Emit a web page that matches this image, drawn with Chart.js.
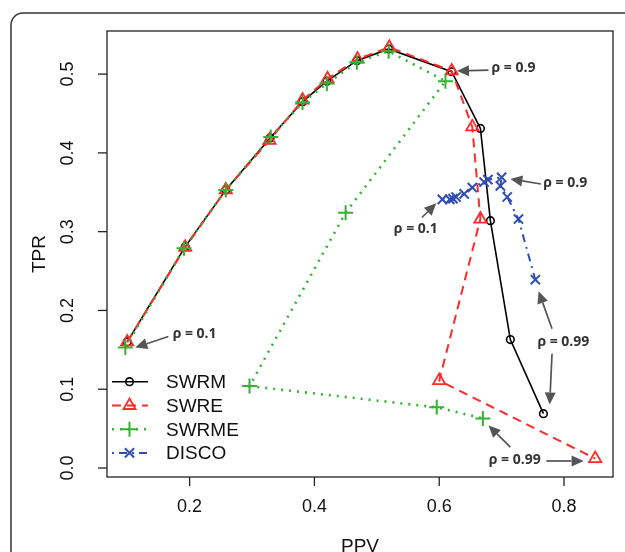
<!DOCTYPE html>
<html lang="en">
<head>
<meta charset="UTF-8">
<title>TPR vs PPV</title>
<script src="https://cdn.jsdelivr.net/npm/chart.js"></script>
<style>
  body { margin: 0; padding: 0; background: #ffffff; }
  .wrap { width: 625px; height: 552px; position: relative; }
</style>
</head>
<body>
<div class="wrap"><canvas id="rocChart"></canvas></div>
<script>
// axis ticks
const xTicks = [0.2, 0.4, 0.6, 0.8];
const yTicks = [0.0, 0.1, 0.2, 0.3, 0.4, 0.5];

// series (PPV on x, TPR on y), rho from 0.1 up to 0.99
const swrmPPV  = [0.100, 0.193, 0.258, 0.329, 0.381, 0.420, 0.468, 0.519, 0.620, 0.666, 0.682, 0.714, 0.767];
const swrmTPR  = [0.160, 0.281, 0.353, 0.419, 0.465, 0.491, 0.517, 0.532, 0.503, 0.431, 0.314, 0.163, 0.069];
const swrePPV  = [0.100, 0.193, 0.258, 0.328, 0.381, 0.421, 0.469, 0.520, 0.620, 0.653, 0.666, 0.600, 0.850];
const swreTPR  = [0.160, 0.280, 0.353, 0.416, 0.467, 0.494, 0.519, 0.534, 0.504, 0.433, 0.316, 0.111, 0.012];
const swrmePPV = [0.097, 0.191, 0.258, 0.330, 0.381, 0.420, 0.468, 0.519, 0.610, 0.450, 0.296, 0.596, 0.670];
const swrmeTPR = [0.153, 0.279, 0.353, 0.420, 0.464, 0.488, 0.515, 0.529, 0.491, 0.324, 0.104, 0.077, 0.063];
const discoPPV = [0.605, 0.617, 0.622, 0.627, 0.640, 0.653, 0.672, 0.678, 0.700, 0.698, 0.709, 0.727, 0.754];
const discoTPR = [0.341, 0.341, 0.342, 0.344, 0.348, 0.356, 0.363, 0.366, 0.369, 0.358, 0.344, 0.316, 0.239];

// rho annotations (data coordinates)
const noteText = ['ρ = 0.1', 'ρ = 0.9', 'ρ = 0.9', 'ρ = 0.1', 'ρ = 0.99', 'ρ = 0.99'];
const noteX    = [0.208, 0.719, 0.802, 0.5625, 0.799, 0.721];
const noteY    = [0.170, 0.508, 0.362, 0.303, 0.160, 0.010];
const arrowFrom = [[0.166, 0.167], [0.679, 0.505], [0.763, 0.3605], [0.5724, 0.318], [0.7808, 0.1767], [0.7808, 0.145], [0.714, 0.0266], [0.7716, 0.0089]];
const arrowTo   = [[0.113, 0.153], [0.6285, 0.504], [0.714, 0.3668], [0.5953, 0.336], [0.7593, 0.2243], [0.777, 0.0807], [0.679, 0.0541], [0.8314, 0.0089]];

const RED = '#ff2a2a', GREEN = '#33b233', BLUE = '#2f4db3';

function pts(xs, ys) {
    return xs.map(function(x, i) { return { x: x, y: ys[i] }; });
}

const series = [
    { label: 'SWRM',  data: pts(swrmPPV, swrmTPR),   color: '#000000', dash: [],            lw: 1.6, style: 'circle',   r: 3.8, pw: 1.6 },
    { label: 'SWRE',  data: pts(swrePPV, swreTPR),   color: RED,       dash: [9, 6],        lw: 2.0, style: 'triangle', r: 7,   pw: 1.8 },
    { label: 'SWRME', data: pts(swrmePPV, swrmeTPR), color: GREEN,     dash: [2, 6],        lw: 2.6, style: 'cross',    r: 7.5, pw: 2.0 },
    { label: 'DISCO', data: pts(discoPPV, discoTPR), color: BLUE,      dash: [2, 5, 8, 5],  lw: 2.0, style: 'crossRot', r: 6.5, pw: 2.0 }
];

// axes, box, frame, legend and annotations
const decorPlugin = {
    id: 'decor',
    beforeDatasetsDraw: function(chart) {
        const ctx = chart.ctx, a = chart.chartArea;
        const xs = chart.scales.x, ys = chart.scales.y;
        ctx.save();
        // outer frame
        ctx.strokeStyle = '#333333';
        ctx.lineWidth = 1.5;
        ctx.beginPath();
        ctx.moveTo(11, 560);
        ctx.lineTo(11, 25);
        ctx.arcTo(11, 13, 23, 13, 12);
        ctx.lineTo(640, 13);
        ctx.stroke();
        // plot box
        ctx.strokeStyle = '#222222';
        ctx.lineWidth = 1.3;
        ctx.strokeRect(a.left, a.top, a.right - a.left, a.bottom - a.top);
        // ticks
        ctx.fillStyle = '#111111';
        ctx.font = '18px "Liberation Sans", Arial, sans-serif';
        ctx.textAlign = 'center';
        ctx.textBaseline = 'middle';
        xTicks.forEach(function(v) {
            const px = xs.getPixelForValue(v);
            ctx.beginPath();
            ctx.moveTo(px, a.bottom);
            ctx.lineTo(px, a.bottom + 9);
            ctx.stroke();
            ctx.fillText(v.toFixed(1), px, 507);
        });
        yTicks.forEach(function(v) {
            const py = ys.getPixelForValue(v);
            ctx.beginPath();
            ctx.moveTo(a.left, py);
            ctx.lineTo(a.left - 9, py);
            ctx.stroke();
            ctx.save();
            ctx.translate(68, py);
            ctx.rotate(-Math.PI / 2);
            ctx.fillText(v.toFixed(1), 0, 0);
            ctx.restore();
        });
        // axis titles
        ctx.font = '19px "Liberation Sans", Arial, sans-serif';
        ctx.textBaseline = 'alphabetic';
        ctx.fillText('PPV', (a.left + a.right) / 2, 552);
        ctx.save();
        ctx.translate(40, (a.top + a.bottom) / 2);
        ctx.rotate(-Math.PI / 2);
        ctx.textBaseline = 'middle';
        ctx.fillText('TPR', 0, 0);
        ctx.restore();
        ctx.restore();
    },
    afterDatasetsDraw: function(chart) {
        const ctx = chart.ctx;
        const xs = chart.scales.x, ys = chart.scales.y;
        ctx.save();
        // legend
        const legY = [381.7, 405.5, 429.3, 452.9];
        series.forEach(function(s, i) {
            ctx.strokeStyle = s.color;
            ctx.lineWidth = s.lw;
            ctx.setLineDash(s.dash);
            ctx.beginPath();
            ctx.moveTo(112, legY[i]);
            ctx.lineTo(148, legY[i]);
            ctx.stroke();
            ctx.setLineDash([]);
            ctx.lineWidth = s.pw;
            ctx.fillStyle = 'rgba(0,0,0,0)';
            Chart.helpers.drawPoint(ctx, { pointStyle: s.style, radius: s.r, borderWidth: s.pw, rotation: 0 }, 129.5, legY[i]);
            ctx.fillStyle = '#111111';
            ctx.font = '19px "Liberation Sans", Arial, sans-serif';
            ctx.textAlign = 'left';
            ctx.textBaseline = 'middle';
            ctx.fillText(s.label, 166, legY[i] + 1);
        });
        // arrows
        ctx.strokeStyle = '#555555';
        ctx.fillStyle = '#555555';
        ctx.lineWidth = 1.7;
        arrowFrom.forEach(function(f, i) {
            const x1 = xs.getPixelForValue(f[0]), y1 = ys.getPixelForValue(f[1]);
            const x2 = xs.getPixelForValue(arrowTo[i][0]), y2 = ys.getPixelForValue(arrowTo[i][1]);
            const ang = Math.atan2(y2 - y1, x2 - x1);
            const hl = 12, hw = 5.5;
            const bx = x2 - hl * Math.cos(ang), by = y2 - hl * Math.sin(ang);
            ctx.beginPath();
            ctx.moveTo(x1, y1);
            ctx.lineTo(bx, by);
            ctx.stroke();
            ctx.beginPath();
            ctx.moveTo(x2, y2);
            ctx.lineTo(bx + hw * Math.sin(ang), by - hw * Math.cos(ang));
            ctx.lineTo(bx - hw * Math.sin(ang), by + hw * Math.cos(ang));
            ctx.closePath();
            ctx.fill();
        });
        // rho labels
        ctx.fillStyle = '#333333';
        ctx.font = 'bold 14px "Open Sans", sans-serif';
        ctx.textAlign = 'center';
        ctx.textBaseline = 'middle';
        noteText.forEach(function(t, i) {
            ctx.fillText(t, xs.getPixelForValue(noteX[i]), ys.getPixelForValue(noteY[i]));
        });
        ctx.restore();
    }
};

const ctx = document.getElementById('rocChart').getContext('2d');
new Chart(ctx, {
    type: 'scatter',
    data: {
        datasets: series.map(function(s, i) {
            return {
                label: s.label,
                data: s.data,
                showLine: true,
                borderColor: s.color,
                backgroundColor: 'rgba(0,0,0,0)',
                borderWidth: s.lw,
                borderDash: s.dash,
                pointStyle: s.style,
                pointRadius: s.r,
                pointBorderColor: s.color,
                pointBackgroundColor: 'rgba(0,0,0,0)',
                pointBorderWidth: s.pw,
                tension: 0,
                clip: false,
                order: 4 - i
            };
        })
    },
    options: {
        responsive: true,
        maintainAspectRatio: false,
        animation: false,
        layout: { padding: { left: 107, top: 31, right: 12, bottom: 75 } },
        plugins: { legend: { display: false }, tooltip: { enabled: false } },
        scales: {
            x: { type: 'linear', min: 0.0676, max: 0.8785, display: false },
            y: { type: 'linear', min: -0.0114, max: 0.5547, display: false }
        }
    },
    plugins: [decorPlugin]
});
</script>
</body>
</html>
